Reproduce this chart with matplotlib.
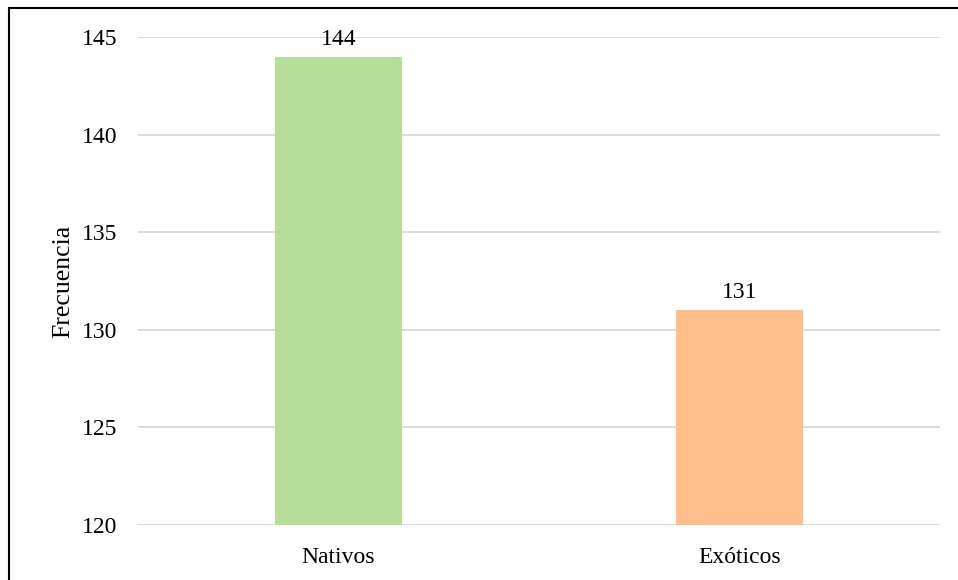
import matplotlib
matplotlib.use("Agg")
import matplotlib.pyplot as plt
from matplotlib.patches import Rectangle

categories = ["Nativos", "Exóticos"]
values = [144, 131]
colors = ["#b6de98", "#ffbe8c"]
yticks = [120, 125, 130, 135, 140, 145]

plt.rcParams['font.family'] = ['Liberation Serif', 'DejaVu Serif']

fig = plt.figure(figsize=(9.58, 5.8), dpi=100)
ax = fig.add_axes([138/958, 55/580, 802/958, 488/580])

x = range(len(categories))
bars = ax.bar(x, values, width=0.317, color=colors, zorder=2)
ax.set_ylim(120, 145)
ax.set_xlim(-0.5, 1.5)
ax.set_yticks(yticks)
ax.set_xticks(list(x))
ax.set_xticklabels(categories)
ax.tick_params(axis='both', length=0, labelsize=17, colors='#000000')
ax.tick_params(axis='y', pad=15)
ax.tick_params(axis='x', pad=16)
ax.grid(axis='y', color='#d9d9d9', linewidth=1.3, zorder=0)
for s in ax.spines.values():
    s.set_visible(False)
ax.set_ylabel("Frecuencia", fontsize=18.5, labelpad=5)

for b, v in zip(bars, values):
    ax.annotate(str(v), (b.get_x() + b.get_width()/2, v), xytext=(0, 5),
                textcoords='offset points', ha='center', va='bottom',
                fontsize=17, annotation_clip=False)

fig.patches.append(Rectangle((9/958, -0.01), 1.0, (580-8)/580 + 0.01,
                             transform=fig.transFigure, fill=False,
                             edgecolor='black', linewidth=1.5))

fig.savefig("out.png", dpi=100)
